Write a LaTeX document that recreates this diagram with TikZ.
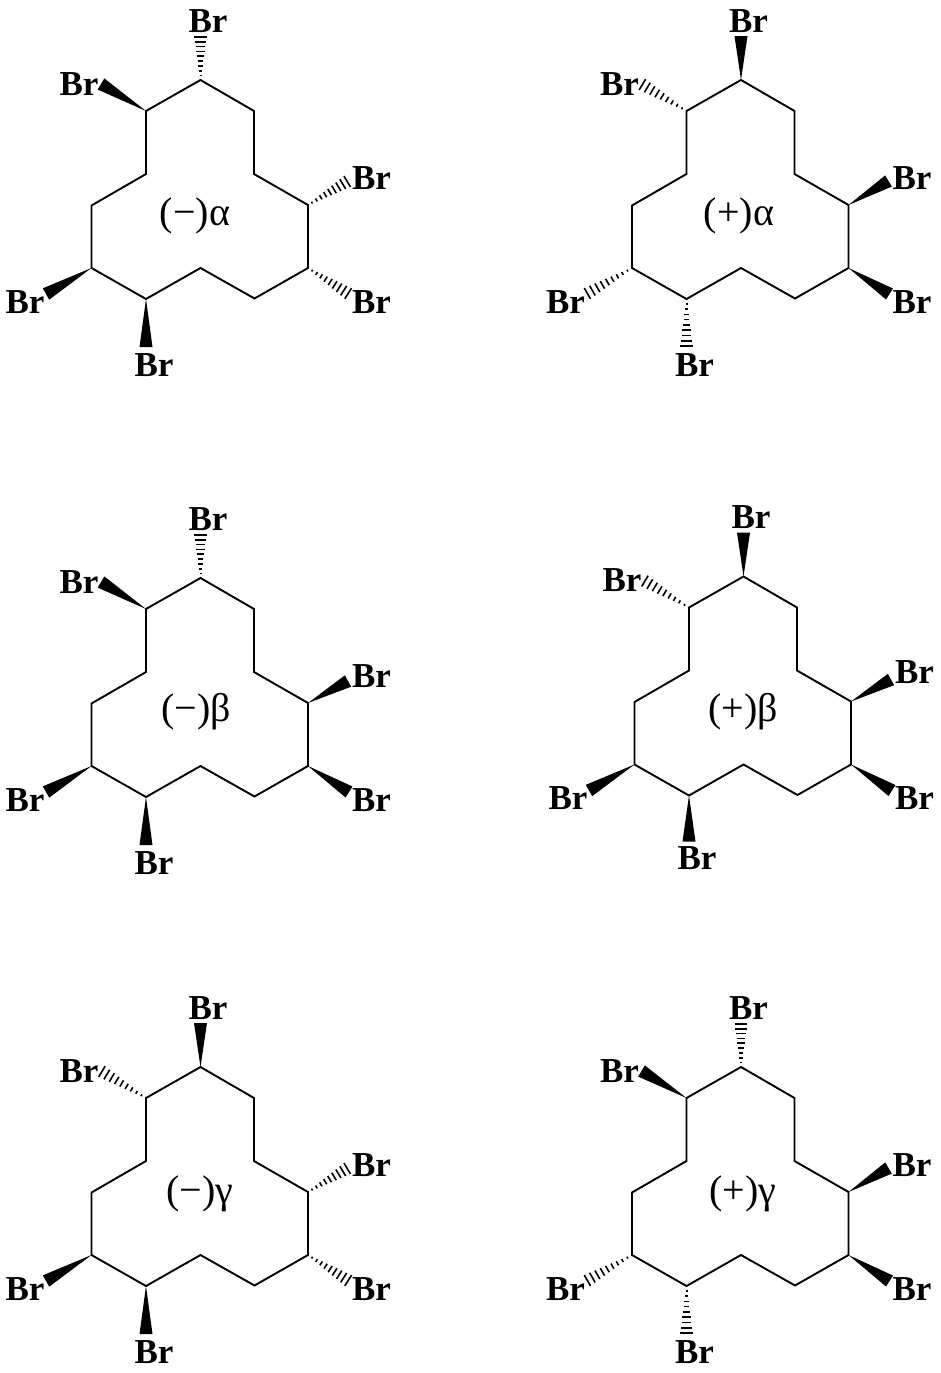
\documentclass[tikz,border=0pt]{standalone}
\usepackage{fontspec}
\setmainfont{Liberation Serif}
\usetikzlibrary{calc}
\tikzset{
  ring/.style={draw=black,line width=1.9pt,line join=miter},
  brlabel/.style={inner sep=0pt,font=\fontsize{35}{38}\selectfont\bfseries},
  molname/.style={inner sep=0pt,font=\fontsize{40}{44}\selectfont},
  hashline/.style={draw=black,line width=1.6pt},
  wedgefill/.style={fill=black,draw=none}
}
\newcommand\wedgebond[2]{\fill[wedgefill] (#1) -- ($(#2)!6.5pt!90:(#1)$) -- ($(#2)!6.5pt!-90:(#1)$) -- cycle;}
\newcommand\hashbond[2]{%
  \foreach \t in {0.10,0.21,0.32,0.43,0.54,0.65,0.76,0.87,0.98}{%
    \pgfmathsetmacro{\hw}{0.4+\t*6}%
    \draw[hashline] ($(#1)!\t!(#2)!\hw pt!90:(#2)$) -- ($(#1)!\t!(#2)!\hw pt!-90:(#2)$);
  }}
\newcommand\siteSixShift{0}
\newcommand\siteSixEnd{0}
\newcommand\siteThreeShift{0}
\newcommand\siteThreeEnd{0}
% prefix, ox, oy, label position, label text, site/kind list
\newcommand\molec[6]{%
\begin{scope}[shift={(#2,#3)}]
  \coordinate (#1-r1) at (200.5,80);
  \coordinate (#1-r2) at (146,111);
  \coordinate (#1-r3) at (146,174);
  \coordinate (#1-r4) at (91.5,205.5);
  \coordinate (#1-r5) at (91.5,268);
  \coordinate (#1-r6) at (146,299);
  \coordinate (#1-r7) at (200.5,268);
  \coordinate (#1-r8) at (254.5,298.5);
  \coordinate (#1-r9) at (308,268);
  \coordinate (#1-r10) at (308,205);
  \coordinate (#1-r11) at (254,174);
  \coordinate (#1-r12) at (254,111);
  \draw[ring] (#1-r1) -- (#1-r2) -- (#1-r3) -- (#1-r4) -- (#1-r5) -- (#1-r6) -- (#1-r7) -- (#1-r8) -- (#1-r9) -- (#1-r10) -- (#1-r11) -- (#1-r12) -- cycle;
  \coordinate (#1-a1) at (#1-r1);
  \coordinate (#1-a2) at (#1-r2);
  \coordinate (#1-a3) at (#1-r10);
  \coordinate (#1-a4) at (#1-r9);
  \coordinate (#1-a5) at (#1-r5);
  \coordinate (#1-a6) at (#1-r6);
  \coordinate (#1-e1) at (200.5,36);
  \coordinate (#1-e2) at (101,84);
  \coordinate (#1-e3) at (348,181+\siteThreeEnd);
  \coordinate (#1-e4) at (349,294);
  \coordinate (#1-e5) at (46,294);
  \coordinate (#1-e6) at (146,347+\siteSixEnd);
  \node[brlabel] (#1-b1) at (208,21) {Br};
  \node[brlabel] (#1-b2) at (79,84) {Br};
  \node[brlabel] (#1-b3) at (371.5,178+\siteThreeShift) {Br};
  \node[brlabel] (#1-b4) at (371.5,302) {Br};
  \node[brlabel] (#1-b5) at (25,302) {Br};
  \node[brlabel] (#1-b6) at (154,365+\siteSixShift) {Br};
  \foreach \s/\k in {#6}{%
    \csname\k bond\endcsname{#1-a\s}{#1-e\s}
  }
\end{scope}
\node[molname] (#1-name) at (#4) {#5};
}
\begin{document}
\begin{tikzpicture}[x=1pt,y=-1pt]
\path[use as bounding box] (0,0) rectangle (941,1373);
\molec{A}{0}{0}{195,216}{(−)α}{1/hash,2/wedge,3/hash,4/hash,5/wedge,6/wedge}
\molec{B}{540.5}{0}{739,216}{(+)α}{1/wedge,2/hash,3/wedge,4/wedge,5/hash,6/hash}
\renewcommand\siteThreeEnd{2}
\molec{C}{0}{498}{196,712}{(−)β}{1/hash,2/wedge,3/wedge,4/wedge,5/wedge,6/wedge}
\renewcommand\siteThreeShift{-2.5}
\renewcommand\siteSixShift{-3}
\renewcommand\siteSixEnd{-2}
\molec{D}{543}{496.5}{743,712}{(+)β}{1/wedge,2/hash,3/wedge,4/wedge,5/wedge,6/wedge}
\renewcommand\siteThreeEnd{0}
\renewcommand\siteThreeShift{0}
\renewcommand\siteSixShift{0}
\renewcommand\siteSixEnd{0}
\molec{E}{0}{987}{200,1194}{(−)γ}{1/wedge,2/hash,3/hash,4/hash,5/wedge,6/wedge}
\molec{F}{540.5}{987}{743,1194}{(+)γ}{1/hash,2/wedge,3/wedge,4/wedge,5/hash,6/hash}
\end{tikzpicture}
\end{document}
